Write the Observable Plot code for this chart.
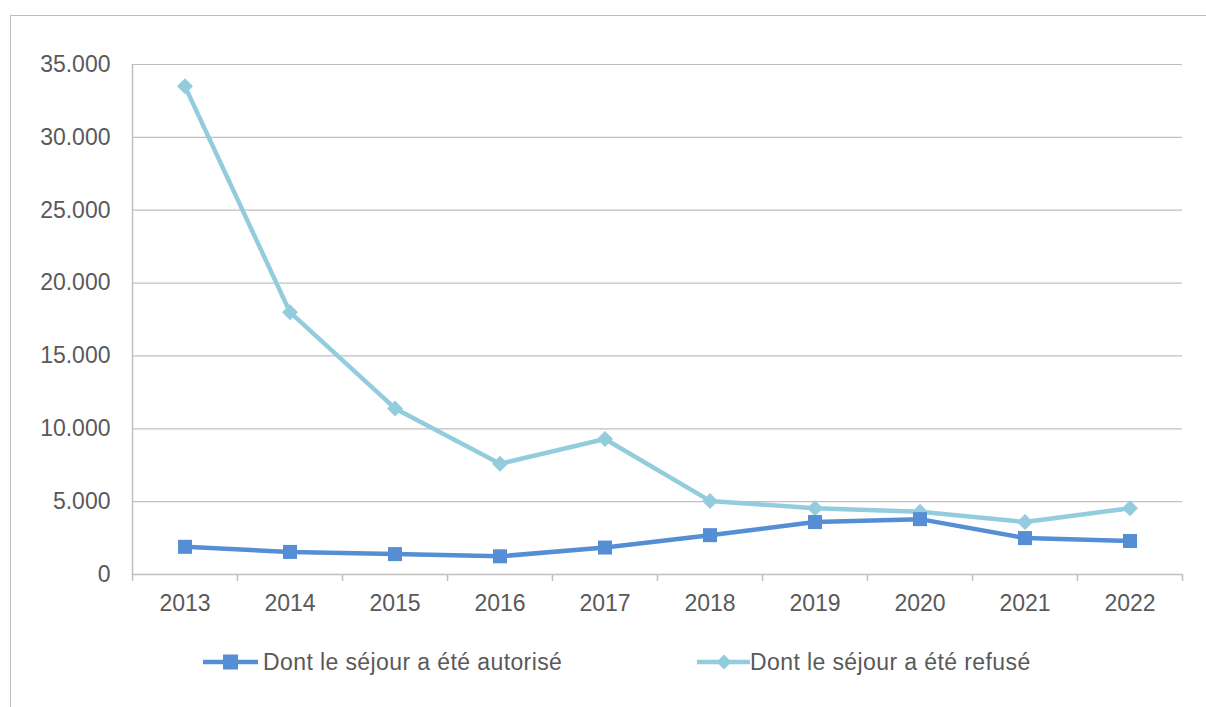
<!DOCTYPE html>
<html>
<head>
<meta charset="utf-8">
<script src="https://cdn.jsdelivr.net/npm/d3@7"></script>
<script src="https://cdn.jsdelivr.net/npm/@observablehq/plot@0.6"></script>
<style>
  html, body { margin: 0; padding: 0; background: #fff; }
  body { width: 1206px; height: 707px; position: relative; overflow: hidden; font-family: "Liberation Sans", Arial, sans-serif; }
  #frame { position: absolute; left: 10px; top: 15px; width: 1300px; height: 800px; border-left: 1.5px solid #BFBFBF; border-top: 1.5px solid #BFBFBF; }
  #chart { position: absolute; left: 0; top: 0; }
  #legend { position: absolute; top: 647px; left: 0; width: 1206px; height: 30px; font-size: 23px; color: #595959; letter-spacing: 0.4px; }
  .item { position: absolute; display: flex; align-items: center; height: 30px; line-height: 30px; }
  .item svg { display: block; }
</style>
</head>
<body>
<div id="frame"></div>
<div id="chart"></div>
<div id="legend"></div>
<script>
const years = [2013, 2014, 2015, 2016, 2017, 2018, 2019, 2020, 2021, 2022];
const autorise = [1900, 1550, 1400, 1250, 1850, 2700, 3600, 3800, 2500, 2300];
const refuse = [33500, 18000, 11400, 7600, 9300, 5050, 4550, 4300, 3600, 4550];
const seriesNames = ["Dont le séjour a été autorisé", "Dont le séjour a été refusé"];
const seriesColors = ["#558ED5", "#93CDDD"];
const yTicks = [0, 5000, 10000, 15000, 20000, 25000, 30000, 35000];

const rowsA = years.map((y, i) => ({year: y, value: autorise[i]}));
const rowsR = years.map((y, i) => ({year: y, value: refuse[i]}));
const bounds = years.map(y => y - 0.5).concat([years[years.length - 1] + 0.5]);
const fmt = d => d === 0 ? "0" : d3.format(",")(d).replace(/,/g, ".");

const chart = Plot.plot({
  width: 1206,
  height: 630,
  marginLeft: 132,
  marginRight: 24,
  marginTop: 64,
  marginBottom: 56,
  style: {fontFamily: "'Liberation Sans', Arial, sans-serif", fontSize: "23px", color: "#595959", background: "transparent"},
  x: {type: "linear", domain: [bounds[0], bounds[bounds.length - 1]]},
  y: {domain: [0, 35000]},
  marks: [
    Plot.gridY(yTicks, {stroke: "#BFBFBF", strokeOpacity: 1, strokeWidth: 1.2}),
    Plot.ruleY([0], {stroke: "#BFBFBF", strokeWidth: 1.5}),
    Plot.frame({anchor: "left", stroke: "#BFBFBF", strokeWidth: 1.5}),
    Plot.axisY(yTicks, {tickSize: 0, tickPadding: 22, tickFormat: fmt, fill: "#595959", fontSize: 23, label: null}),
    Plot.axisX(bounds, {tickSize: 7, tickFormat: () => "", stroke: "#BFBFBF", strokeWidth: 1.5, label: null}),
    Plot.axisX(years, {tickSize: 0, tickPadding: 20, tickFormat: d => String(d), fill: "#595959", fontSize: 23, label: null}),
    Plot.line(rowsR, {x: "year", y: "value", stroke: seriesColors[1], strokeWidth: 4.5}),
    Plot.dot(rowsR, {x: "year", y: "value", symbol: "diamond2", r: 7.2, fill: seriesColors[1], stroke: "none"}),
    Plot.line(rowsA, {x: "year", y: "value", stroke: seriesColors[0], strokeWidth: 4.5}),
    Plot.dot(rowsA, {x: "year", y: "value", symbol: "square", r: 7.9, fill: seriesColors[0], stroke: "none"})
  ]
});
document.getElementById("chart").appendChild(chart);

// Legend
const legend = document.getElementById("legend");
const lefts = [203, 697];
seriesNames.forEach((name, i) => {
  const item = document.createElement("div");
  item.className = "item";
  item.style.left = lefts[i] + "px";
  const sw = i === 0
    ? `<svg width="60" height="30"><line x1="0" y1="15" x2="55" y2="15" stroke="${seriesColors[i]}" stroke-width="4.5"/><rect x="20" y="7.5" width="15" height="15" fill="${seriesColors[i]}"/></svg>`
    : `<svg width="53" height="30"><line x1="0" y1="15" x2="53" y2="15" stroke="${seriesColors[i]}" stroke-width="4.5"/><path d="M27,7.5L34.5,15L27,22.5L19.5,15Z" fill="${seriesColors[i]}"/></svg>`;
  item.innerHTML = sw + `<span>${name}</span>`;
  legend.appendChild(item);
});
</script>
</body>
</html>
